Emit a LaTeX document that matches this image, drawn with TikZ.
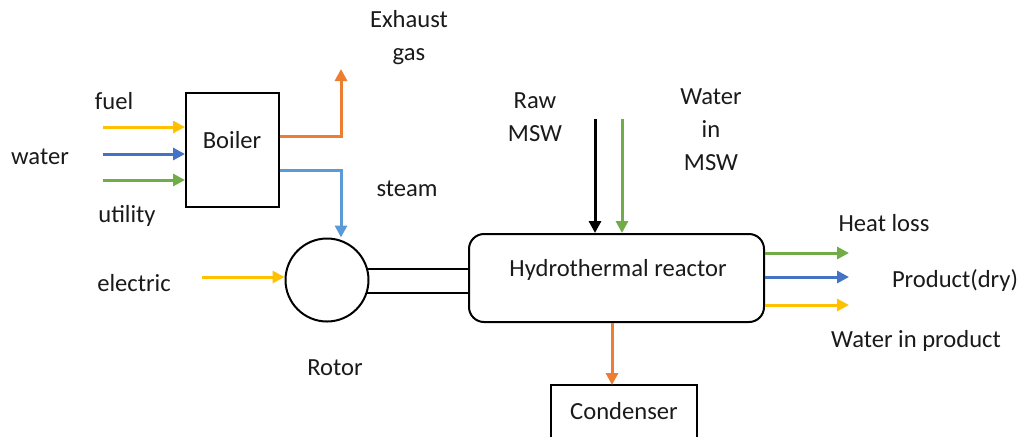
\documentclass[tikz,border=0pt]{standalone}
\usepackage{fontspec}
\setmainfont{Carlito}
\usetikzlibrary{arrows.meta}
\definecolor{cyel}{HTML}{FFC000}
\definecolor{cblu}{HTML}{4472C4}
\definecolor{cgrn}{HTML}{70AD47}
\definecolor{corg}{HTML}{ED7D31}
\definecolor{clbl}{HTML}{5B9BD5}
\definecolor{ctxt}{HTML}{1A1A1A}
\begin{document}
\begin{tikzpicture}[x=0.5pt,y=-0.5pt,
  flow/.style={line width=1.5pt,-{Triangle[length=6pt,width=6pt]}},
  box/.style={draw,line width=1pt,inner sep=0pt},
  lbl/.style={font=\fontsize{12.3}{15}\selectfont,text=ctxt,inner sep=0pt,align=center}]
\useasboundingbox (0,0) rectangle (1021,436);
% boiler
\node[box,minimum width=46.5pt,minimum height=57pt] (boiler) at (232.5,149.5) {};
\node[lbl] (tboiler) at (232,140) {Boiler};
% rotor
\node[box,circle,minimum size=41.5pt] (rotor) at (327,280) {};
% reactor
\node[box,rounded corners=7.5pt,minimum width=147.5pt,minimum height=44pt] (reactor) at (616.5,278) {};
\node[lbl] (treactor) at (618,270) {Hydrothermal reactor};
% condenser
\draw[line width=1pt] (551,450) |- (697,385) -- (697,450);
\coordinate (cond) at (612,385);
\node[lbl] (tcond) at (624,411) {Condenser};
% shaft
\coordinate (s1a) at (367,269); \coordinate (s1b) at (469,269);
\coordinate (s2a) at (367,293); \coordinate (s2b) at (469,293);
\draw[line width=1pt] (s1a) -- (s1b) (s2a) -- (s2b);
% inputs to boiler
\coordinate (fuelS) at (103,127);
\coordinate (waterS) at (103,154);
\coordinate (utilS) at (103,180);
\draw[flow,cyel] (fuelS) -- (boiler.west |- fuelS);
\draw[flow,cblu] (waterS) -- (boiler.west |- waterS);
\draw[flow,cgrn] (utilS) -- (boiler.west |- utilS);
\node[lbl] (tfuel) at (114,101) {fuel};
\node[lbl] (twater) at (40,157) {water};
\node[lbl] (tutil) at (127,216) {utility};
% exhaust
\coordinate (exh) at (341,69);
\draw[flow,corg] (boiler.east |- 0,136) -| (exh);
\node[lbl] (texh) at (409,38) {Exhaust\\[1.5pt]gas};
% steam
\draw[flow,clbl] (boiler.east |- 0,170) -| (rotor.north -| 341,0);
\node[lbl] (tsteam) at (407,189) {steam};
% electric
\coordinate (elecS) at (202,277);
\draw[flow,cyel] (elecS) -- (rotor.west |- elecS);
\node[lbl] (telec) at (134,283) {electric};
\node[lbl] (trotor) at (335,368) {Rotor};
% MSW
\coordinate (rawS) at (595,119);
\coordinate (wmS) at (622,119);
\draw[flow,black] (rawS) -- (reactor.north -| rawS);
\draw[flow,cgrn] (wmS) -- (reactor.north -| wmS);
\node[lbl] (traw) at (535,117) {Raw\\[1.5pt]MSW};
\node[lbl] (twm) at (711,130) {Water\\[1.5pt]in\\[1.5pt]MSW};
% outputs
\coordinate (heatE) at (849,253);
\coordinate (prodE) at (849,277);
\coordinate (wpE) at (849,305);
\draw[flow,cgrn] (reactor.east |- heatE) -- (heatE);
\draw[flow,cblu] (reactor.east |- prodE) -- (prodE);
\draw[flow,cyel] (reactor.east |- wpE) -- (wpE);
\node[lbl] (theat) at (884,223) {Heat loss};
\node[lbl] (tprod) at (955,280) {Product(dry)};
\node[lbl] (twp) at (916,341) {Water in product};
% condenser flow
\draw[flow,corg] (reactor.south -| cond) -- (cond);
\end{tikzpicture}
\end{document}
